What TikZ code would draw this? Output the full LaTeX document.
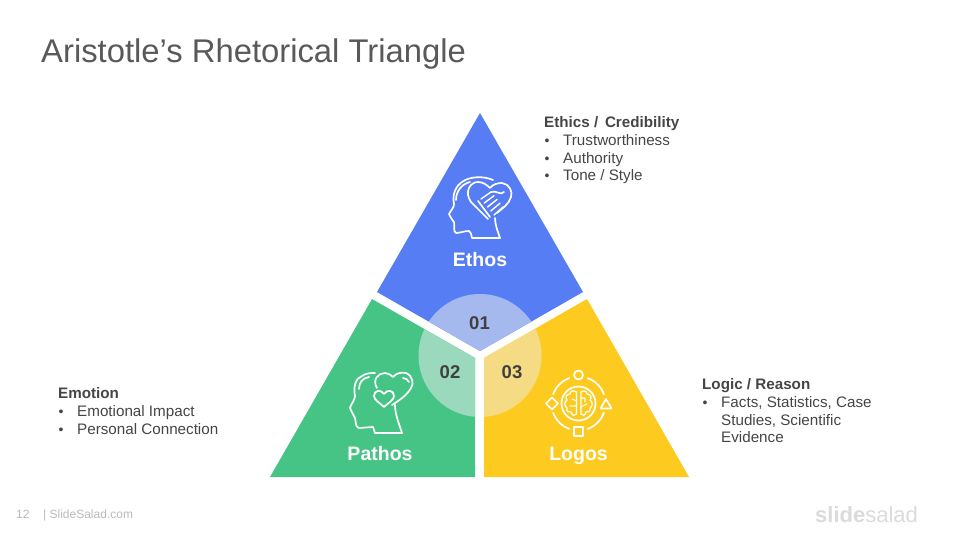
\documentclass[tikz,border=0pt]{standalone}
\usepackage{fontspec}
\usetikzlibrary{calc}
\setmainfont{Liberation Sans}
\definecolor{ethosBlue}{HTML}{567DF4}
\definecolor{pathosGreen}{HTML}{45C486}
\definecolor{logosYellow}{HTML}{FDCB1F}
\definecolor{ethosLight}{HTML}{A6B9EF}
\definecolor{pathosLight}{HTML}{9BD9BC}
\definecolor{logosLight}{HTML}{F5DC84}
\definecolor{titleGray}{HTML}{595959}
\definecolor{bodyGray}{HTML}{454545}
\begin{document}
\begin{tikzpicture}
        [x=1pt,y=-1pt,
        title/.style={anchor=base west, inner sep=0, text=titleGray, font=\fontsize{32.8}{36}\selectfont},
        heading/.style={anchor=base west, inner sep=0, text=bodyGray, font=\fontsize{15.2}{18}\selectfont\bfseries},
        item/.style={anchor=base west, inner sep=0, text=bodyGray, font=\fontsize{15.2}{18}\selectfont},
        bullet/.style={anchor=base, inner sep=0, text=bodyGray, font=\fontsize{14}{18}\selectfont},
        label/.style={anchor=base, inner sep=0, text=white, font=\fontsize{19.5}{22}\selectfont\bfseries},
        number/.style={anchor=base, inner sep=0, text=black!75, font=\fontsize{18.5}{22}\selectfont\bfseries},
        footer/.style={anchor=base west, inner sep=0, text=black!27, font=\fontsize{12}{14}\selectfont},
        icon/.style={draw=white, line width=1.7pt, line join=round, line cap=round}]
        \useasboundingbox (0,0) rectangle (960,540);

        \node[title] (Title) at (41,63) {Aristotle’s Rhetorical Triangle};

        % triangle parts
        \fill[ethosBlue] (480,113) -- (583,292) -- (480,351) -- (377,292) -- cycle;
        \fill[pathosGreen] (372,299) -- (475,358) -- (475,477) -- (270,477) -- cycle;
        \fill[logosYellow] (587,299) -- (689,477) -- (484,477) -- (484,358) -- cycle;
        \begin{scope}
            \clip (480,113) -- (583,292) -- (480,351) -- (377,292) -- cycle;
            \fill[ethosLight] (480,355.5) circle (61.5);
        \end{scope}
        \begin{scope}
            \clip (372,299) -- (475,358) -- (475,477) -- (270,477) -- cycle;
            \fill[pathosLight] (480,355.5) circle (61.5);
        \end{scope}
        \begin{scope}
            \clip (587,299) -- (689,477) -- (484,477) -- (484,358) -- cycle;
            \fill[logosLight] (480,355.5) circle (61.5);
        \end{scope}

        \node[number] (One) at (479.5,329) {01};
        \node[number] (Two) at (450,378) {02};
        \node[number] (Three) at (512,378) {03};
        \node[label] (Ethos) at (480,266.5) {Ethos};
        \node[label] (Pathos) at (380,460.5) {Pathos};
        \node[label] (Logos) at (578.5,460.5) {Logos};

        % ethos icon
        \draw[icon] (500,238) -- (472,238) .. controls (471,234) and (471,232) .. (469,231)
            .. controls (464,231) and (460,233) .. (456,233) .. controls (453,232) and (455,226) .. (454,222)
            .. controls (452,220) and (450,216) .. (449,214) .. controls (451,210) and (454,208) .. (454,204)
            .. controls (452,194) and (456,186) .. (462,182) .. controls (470,176) and (484,176) .. (493,180);
        \draw[icon] (495,218) .. controls (495,225) and (498,232) .. (500,238);
        \draw[icon] (456,200) .. controls (456,191) and (462,184) .. (470,182);
        \draw[icon] (488,219) -- (471,202) .. controls (464,192) and (470,182) .. (478,182)
            .. controls (483,182) and (487,185) .. (490,188) .. controls (493,184) and (498,183) .. (502,183)
            .. controls (509,184) and (513,191) .. (511,197) .. controls (509,204) and (503,208) .. (497,213);
        \draw[icon] (478,201) -- (490,217);
        \foreach \t in {0,0.25,0.5,0.75,1}
            \draw[icon, line width=1.4pt] ($(481,199)!\t!(494,215)$) -- ($(491,192)!\t!(503,207)$);
        \draw[icon] (491,192) .. controls (497,190) and (500,196) .. (504,192);

        % pathos icon
        \draw[icon] (402,433) -- (375,433) -- (373,427) -- (359,428) .. controls (355,427) and (356,421) .. (355,418)
            .. controls (353,414) and (351,411) .. (350,408) .. controls (351,404) and (355,400) .. (355,396)
            .. controls (353,386) and (356,378) .. (362,376) .. controls (366,373) and (371,373) .. (375,373);
        \draw[icon] (395,405) .. controls (395,414) and (399,424) .. (402,433);
        \draw[icon] (359,389) .. controls (359,382) and (363,378) .. (369,377);
        \draw[icon] (377,388) .. controls (372,380) and (378,373) .. (385,373)
            .. controls (388,373) and (391,375) .. (393,377) .. controls (396,373) and (402,372) .. (406,373)
            .. controls (413,376) and (414,384) .. (411,388) .. controls (407,395) and (400,400) .. (392,405);
        \draw[icon] (403,378) .. controls (406,378) and (408,380) .. (409,382);
        \draw[icon] (384,407) .. controls (380,403) and (374,400) .. (374,396)
            .. controls (374,390) and (381,389) .. (384,394) .. controls (387,389) and (394,390) .. (394,396)
            .. controls (394,400) and (388,403) .. (384,407);

        % logos icon
        \foreach \a in {20,110,200,290}
            \draw[icon] (578.5,403.5) ++(\a:27) arc (\a:\a+50:27);
        \draw[icon] (578.5,403.5) circle (17);
        \draw[icon] (578.5,375) circle (4.5);
        \draw[icon] (574,427) rectangle (583,436);
        \draw[icon] (552,397.5) -- (558,403.5) -- (552,409.5) -- (546,403.5) -- cycle;
        \draw[icon] (606,399) -- (611.5,408.5) -- (600.5,408.5) -- cycle;
        % brain inside the ring
        \draw[icon, line width=1.3pt] (576.5,392) .. controls (573,390) and (570,391) .. (570,394)
            .. controls (566,394) and (565,398) .. (567,400) .. controls (564,402) and (564,406) .. (567,408)
            .. controls (566,411) and (569,413) .. (571,412) .. controls (572,416) and (575,416) .. (576.5,414) -- cycle;
        \draw[icon, line width=1.3pt] (581,392) .. controls (584,390) and (587,391) .. (587,394)
            .. controls (591,394) and (592,398) .. (590,400) .. controls (593,402) and (593,406) .. (590,408)
            .. controls (591,411) and (588,413) .. (586,412) .. controls (585,416) and (582,416) .. (581,414) -- cycle;
        \draw[icon, line width=1.1pt] (581,398) -- (585,398) -- (585,402) (581,407) -- (587,404) (572,399) -- (576.5,401) (570,406) -- (576.5,406);

        % ethos text
        \node[heading] (EthosHead) at (544,128) {Ethics /\, Credibility};
        \node[bullet] (EthosDotA) at (547,146) {•};
        \node[item] (EthosItemA) at (563,146) {Trustworthiness};
        \node[bullet] (EthosDotB) at (547,164) {•};
        \node[item] (EthosItemB) at (563,164) {Authority};
        \node[bullet] (EthosDotC) at (547,181) {•};
        \node[item] (EthosItemC) at (563,181) {Tone / Style};

        % logos text
        \node[heading] (LogosHead) at (702,389) {Logic / Reason};
        \node[bullet] (LogosDot) at (705,407) {•};
        \node[item] (LogosItemA) at (721,407) {Facts, Statistics, Case};
        \node[item] (LogosItemB) at (721,425) {Studies, Scientific};
        \node[item] (LogosItemC) at (721,442) {Evidence};

        % pathos text
        \node[heading] (PathosHead) at (58,398) {Emotion};
        \node[bullet] (PathosDotA) at (61,416) {•};
        \node[item] (PathosItemA) at (77,416) {Emotional Impact};
        \node[bullet] (PathosDotB) at (61,434) {•};
        \node[item] (PathosItemB) at (77,434) {Personal Connection};

        % footer
        \node[footer] (PageNo) at (16,518) {12};
        \node[footer] (Site) at (43,518) {| SlideSalad.com};
        \node[anchor=base west, inner sep=0, text=black!14, font=\fontsize{22}{28}\selectfont] (Logo) at (815,522) {\textbf{slide}salad};
\end{tikzpicture}
\end{document}
